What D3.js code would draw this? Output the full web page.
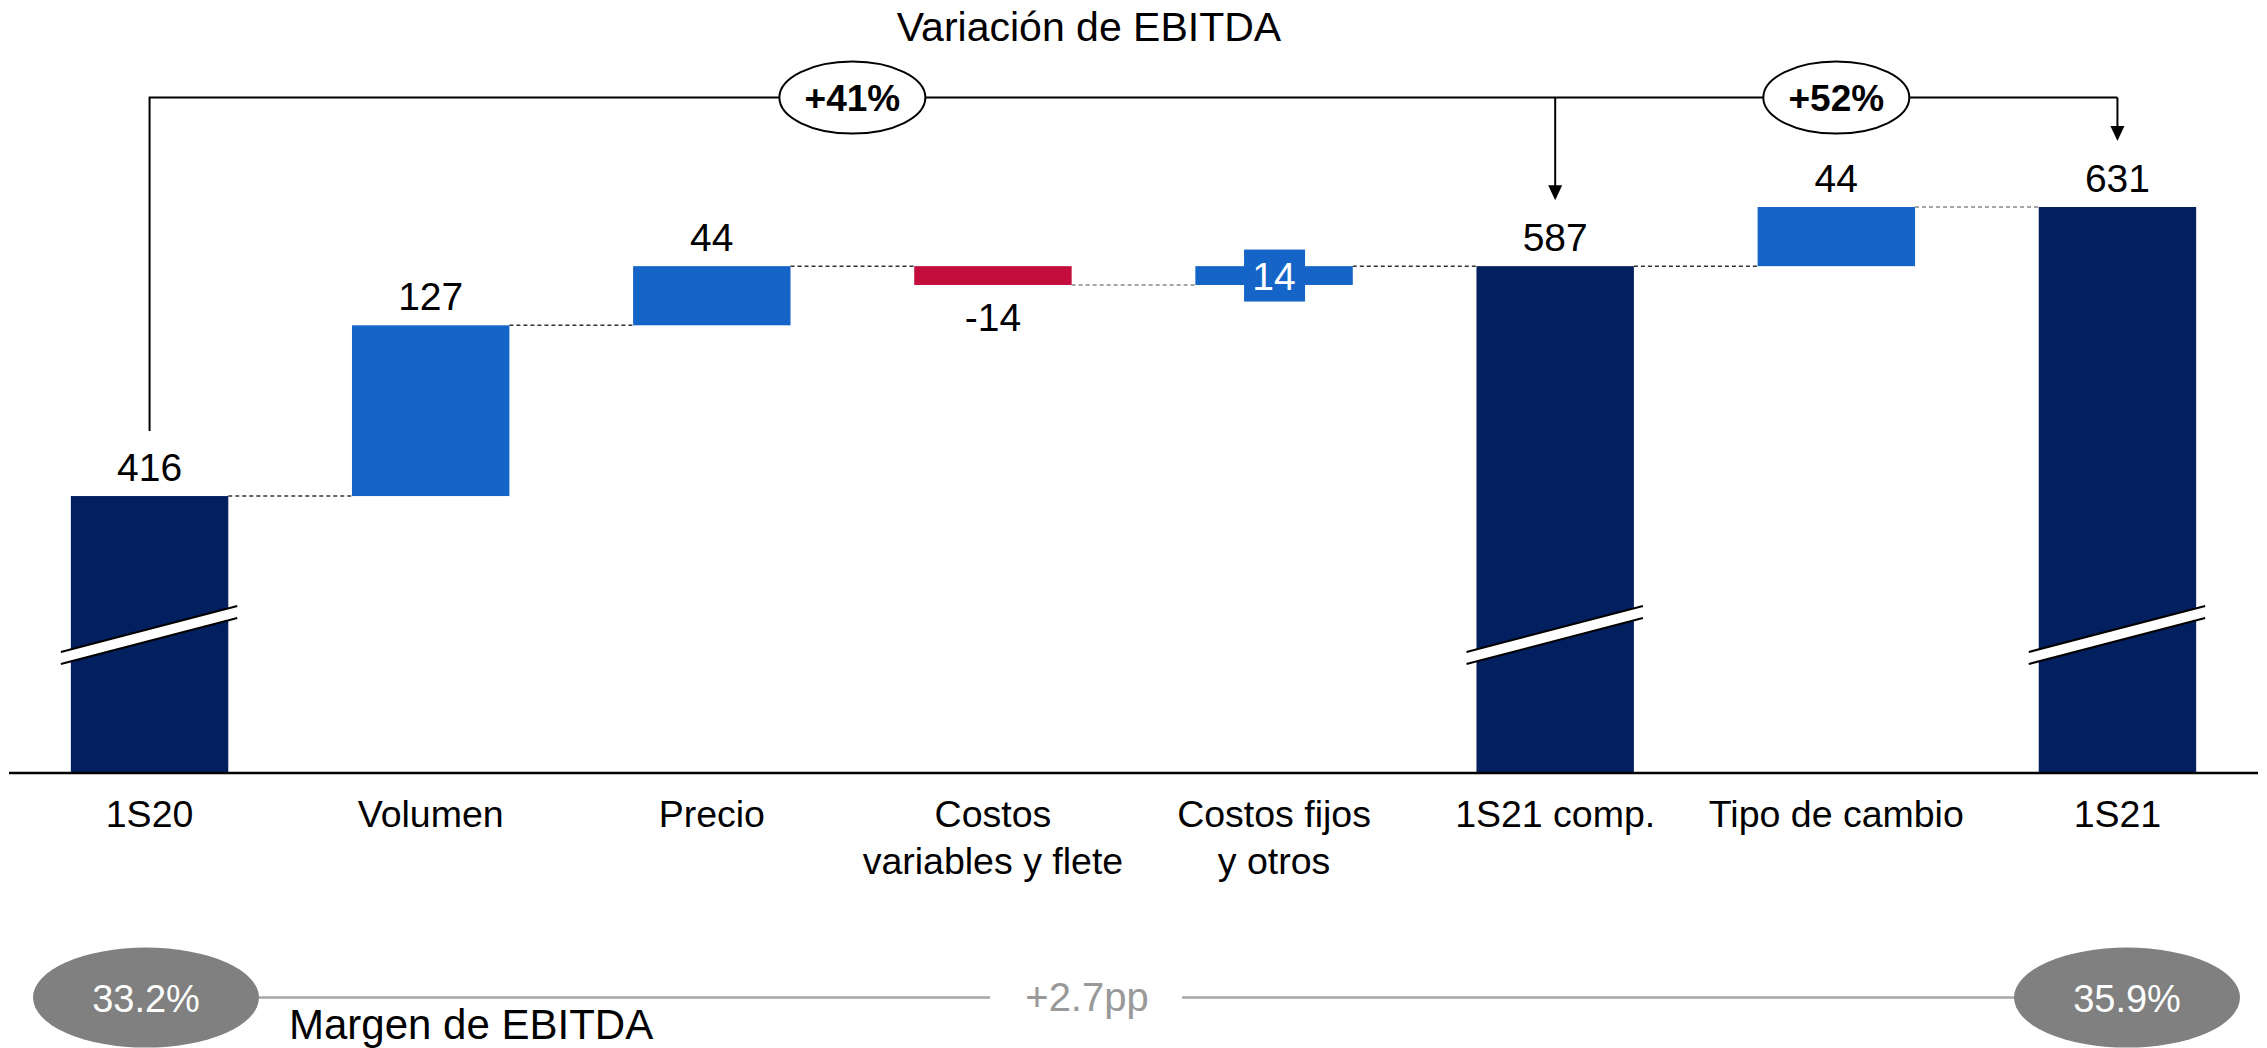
<!DOCTYPE html>
<html>
<head>
<meta charset="utf-8">
<script src="https://cdn.jsdelivr.net/npm/d3@7"></script>
<style>
	html, body { margin: 0; padding: 0; background: #fff; }
	svg { display: block; font-family: "Liberation Sans", Arial, sans-serif; }
</style>
</head>
<body>
<script>
// Chart data
var categories = ["1S20", "Volumen", "Precio", "Costos variables y flete", "Costos fijos y otros", "1S21 comp.", "Tipo de cambio", "1S21"];
var categoryLines = [["1S20"], ["Volumen"], ["Precio"], ["Costos", "variables y flete"], ["Costos fijos", "y otros"], ["1S21 comp."], ["Tipo de cambio"], ["1S21"]];
var values = [416, 127, 44, -14, 14, 587, 44, 631];
var isTotal = [true, false, false, false, false, true, false, true];
var growthLabels = ["+41%", "+52%"];
var margins = ["33.2%", "35.9%"];
var marginDelta = "+2.7pp";

var width = 2267;
var height = 1048;

var navy = "#022060";
var blue = "#1565c8";
var red = "#c20d3d";

// Build the waterfall steps
var steps = [];
var running = 0;
values.forEach(function(v, i) {
	var start, end;
	if (isTotal[i]) {
		start = null;
		end = v;
	} else {
		start = running;
		end = running + v;
	}
	running = end;
	steps.push({cat: categories[i], lines: categoryLines[i], value: v, total: isTotal[i], start: start, end: end});
});

var svg = d3.select("body")
	.append("svg")
		.attr("width", width)
		.attr("height", height);

var x = d3.scaleBand()
	.domain(categories)
	.range([9, 2258])
	.paddingInner(0.44)
	.paddingOuter(0.22);

// Broken axis: domain starts above zero
var y = d3.scaleLinear()
	.domain([210, 631])
	.range([773, 207]);

var bw = x.bandwidth();
function cx(d) { return x(d.cat) + bw / 2; }
function barTop(d) { return d.total ? y(d.end) : y(Math.max(d.start, d.end)); }
function barBottom(d) { return d.total ? y.range()[0] : y(Math.min(d.start, d.end)); }

// Title
svg.append("text")
	.attr("x", 1089)
	.attr("y", 41)
	.attr("text-anchor", "middle")
	.attr("font-size", 41)
	.attr("fill", "#000")
	.text("Variación de EBITDA");

// Dashed connectors
var conn = svg.append("g").attr("class", "connectors");
steps.forEach(function(d, i) {
	if (i === steps.length - 1) return;
	var next = steps[i + 1];
	conn.append("line")
		.attr("x1", x(d.cat) + bw)
		.attr("x2", x(next.cat))
		.attr("y1", y(d.end))
		.attr("y2", y(d.end))
		.attr("stroke", (i === 3 || i === 6) ? "#888" : "#333")
		.attr("stroke-width", 1.5)
		.attr("stroke-dasharray", "4,3");
});

// Bars
svg.append("g")
	.attr("class", "bars")
	.selectAll("rect")
		.data(steps)
		.enter().append("rect")
			.attr("x", function(d) { return x(d.cat); })
			.attr("width", bw)
			.attr("y", barTop)
			.attr("height", function(d) { return barBottom(d) - barTop(d); })
			.attr("fill", function(d) { return d.total ? navy : (d.value < 0 ? red : blue); });

// Axis break marks on total bars
var breaks = svg.append("g").attr("class", "breaks");
steps.filter(function(d) { return d.total; }).forEach(function(d) {
	var x0 = x(d.cat) - 10;
	var x1 = x(d.cat) + bw + 9;
	var yb = 664;
	var rise = 46;
	var gap = 12;
	breaks.append("path")
		.attr("d", "M" + x0 + "," + (yb - gap) + "L" + x1 + "," + (yb - gap - rise) +
			"L" + x1 + "," + (yb - rise) + "L" + x0 + "," + yb + "Z")
		.attr("fill", "#fff");
	[yb - gap, yb].forEach(function(yy) {
		breaks.append("line")
			.attr("x1", x0).attr("y1", yy)
			.attr("x2", x1).attr("y2", yy - rise)
			.attr("stroke", "#000")
			.attr("stroke-width", 2);
	});
});

// Baseline
svg.append("line")
	.attr("x1", x.range()[0])
	.attr("x2", x.range()[1])
	.attr("y1", y.range()[0])
	.attr("y2", y.range()[0])
	.attr("stroke", "#000")
	.attr("stroke-width", 2.5);

// Value labels
var labels = svg.append("g").attr("class", "labels");
steps.forEach(function(d, i) {
	if (i === 4) {
		// label sits inside a blue box over the thin bar
		var mid = (barTop(d) + barBottom(d)) / 2;
		labels.append("rect")
			.attr("x", cx(d) - 30)
			.attr("y", mid - 26)
			.attr("width", 61)
			.attr("height", 52)
			.attr("fill", blue);
		labels.append("text")
			.attr("x", cx(d))
			.attr("y", mid + 14)
			.attr("text-anchor", "middle")
			.attr("font-size", 39)
			.attr("fill", "#fff")
			.text(d.value);
	} else if (d.value < 0) {
		labels.append("text")
			.attr("x", cx(d))
			.attr("y", barBottom(d) + 46)
			.attr("text-anchor", "middle")
			.attr("font-size", 39)
			.attr("fill", "#000")
			.text(d.value);
	} else {
		labels.append("text")
			.attr("x", cx(d))
			.attr("y", barTop(d) - 15)
			.attr("text-anchor", "middle")
			.attr("font-size", 39)
			.attr("fill", "#000")
			.text(d.value);
	}
});

// Category labels
var cats = svg.append("g").attr("class", "categories");
steps.forEach(function(d) {
	var t = cats.append("text")
		.attr("x", cx(d))
		.attr("y", 827)
		.attr("text-anchor", "middle")
		.attr("font-size", 37.5)
		.attr("fill", "#000");
	d.lines.forEach(function(line, j) {
		t.append("tspan")
			.attr("x", cx(d))
			.attr("dy", j === 0 ? 0 : 47)
			.text(line);
	});
});

// Growth bracket
var bracketY = 97.6;
var first = steps[0], mid = steps[5], last = steps[7];
var bracket = svg.append("g").attr("class", "bracket");
bracket.append("path")
	.attr("d", "M" + cx(first) + "," + (barTop(first) - 65) + "V" + bracketY + "H" + cx(last))
	.attr("fill", "none")
	.attr("stroke", "#000")
	.attr("stroke-width", 2);

[mid, last].forEach(function(d) {
	var tip = barTop(d) - 66;
	bracket.append("line")
		.attr("x1", cx(d)).attr("x2", cx(d))
		.attr("y1", bracketY).attr("y2", tip - 12)
		.attr("stroke", "#000")
		.attr("stroke-width", 2);
	bracket.append("path")
		.attr("d", "M" + (cx(d) - 7) + "," + (tip - 15) + "L" + (cx(d) + 7) + "," + (tip - 15) + "L" + cx(d) + "," + tip + "Z")
		.attr("fill", "#000");
});

var bubbleX = [
	(cx(steps[2]) + cx(steps[3])) / 2,
	cx(steps[6])
];
growthLabels.forEach(function(g, i) {
	bracket.append("ellipse")
		.attr("cx", bubbleX[i])
		.attr("cy", bracketY)
		.attr("rx", 73)
		.attr("ry", 36)
		.attr("fill", "#fff")
		.attr("stroke", "#000")
		.attr("stroke-width", 2);
	bracket.append("text")
		.attr("x", bubbleX[i])
		.attr("y", bracketY + 13)
		.attr("text-anchor", "middle")
		.attr("font-size", 37)
		.attr("font-weight", "bold")
		.attr("fill", "#000")
		.text(g);
});

// EBITDA margin row
var marginY = 997.6;
var mg = svg.append("g").attr("class", "margin");
var mLeft = 146, mRight = 2127;
mg.append("line")
	.attr("x1", mLeft + 113).attr("x2", 990)
	.attr("y1", marginY).attr("y2", marginY)
	.attr("stroke", "#a6a6a6")
	.attr("stroke-width", 2.5);
mg.append("line")
	.attr("x1", 1182).attr("x2", mRight - 110)
	.attr("y1", marginY).attr("y2", marginY)
	.attr("stroke", "#a6a6a6")
	.attr("stroke-width", 2.5);
mg.append("text")
	.attr("x", 1087)
	.attr("y", marginY + 13)
	.attr("text-anchor", "middle")
	.attr("font-size", 40)
	.attr("fill", "#999")
	.text(marginDelta);

[mLeft, mRight].forEach(function(mx, i) {
	mg.append("ellipse")
		.attr("cx", mx)
		.attr("cy", marginY)
		.attr("rx", 113)
		.attr("ry", 50)
		.attr("fill", "#808080");
	mg.append("text")
		.attr("x", mx)
		.attr("y", marginY + 14)
		.attr("text-anchor", "middle")
		.attr("font-size", 38)
		.attr("fill", "#fff")
		.text(margins[i]);
});

mg.append("text")
	.attr("x", 289)
	.attr("y", 1039)
	.attr("font-size", 42)
	.attr("fill", "#000")
	.text("Margen de EBITDA");
</script>
</body>
</html>
